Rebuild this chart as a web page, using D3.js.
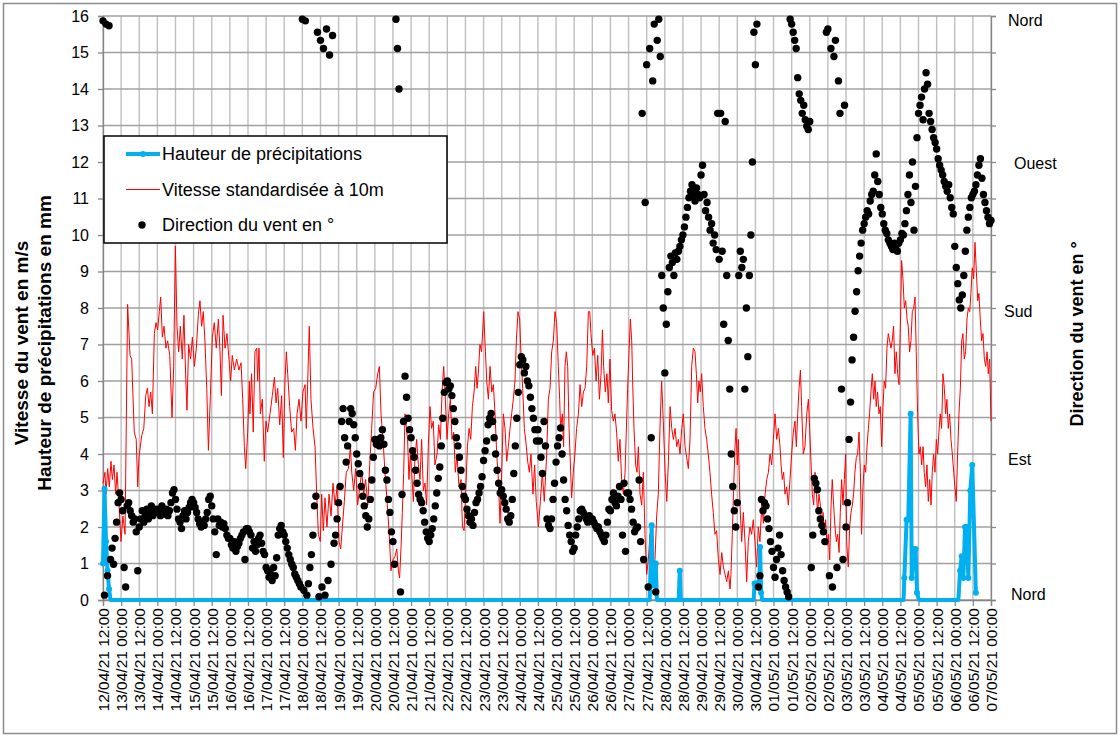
<!DOCTYPE html>
<html>
<head>
<meta charset="utf-8">
<script src="https://cdn.jsdelivr.net/npm/d3@7"></script>
<style>
body { margin: 0; background: #fff; }
text { font-family: "Liberation Sans", Arial, sans-serif; fill: #000; }
</style>
</head>
<body>
<div id="chart"></div>
<script>
// hours are counted from 12/04/21 12:00
var startTime = Date.UTC(2021, 3, 12, 12);
var endTime = Date.UTC(2021, 4, 7, 0);

// wind speed standardised at 10 m, [hour, m/s]
var speed = [[0,3.2],[1.3,3.5],[2,2.9],[3.1,3.6],[4.2,3.1],[5.3,3.8],[6.2,3.3],[7.3,3.7],[8.4,2.9],[9.3,3.5],[10.6,2.6],[11.9,1.6],[13.2,2.3],[14.6,1.8],[16.3,8.1],[17.9,6.7],[19,6.6],[20.7,4.6],[22,4.4],[23,3.1],[23.8,3.9],[25.6,4.5],[27,4.7],[28.3,5.6],[29.4,5.8],[30.5,5.3],[31.6,5.7],[32.7,5.1],[34,7.3],[35.1,7.6],[36.2,7.4],[37.3,7.9],[38.2,8.3],[39.3,7.2],[40.4,7.5],[41.7,6.9],[42.8,7.1],[44.2,6.7],[45.7,5.0],[46.8,6.4],[47.9,9.7],[49,7.5],[50.1,6.8],[51.2,7.5],[52.5,6.6],[53.6,7.8],[54.7,6.2],[55.6,5.2],[56.7,7.0],[58,6.6],[59.2,7.2],[60.5,6.4],[61.8,6.9],[63.1,7.8],[64.2,8.2],[65.3,7.5],[66.4,7.9],[67.5,7.1],[68.7,5.8],[69.8,4.1],[71.1,5.6],[72.4,7.2],[73.7,7.6],[75,6.9],[76.4,7.7],[77.5,6.8],[78.4,5.6],[79.5,7.8],[80.8,6.9],[82.1,7.3],[83.4,6.6],[84.5,6.0],[85.6,6.7],[87,6.3],[88.5,6.6],[90,6.3],[91.4,6.5],[92.5,5.5],[93.6,4.2],[94.5,3.6],[95.8,4.6],[96.9,6.0],
  [97.3,5.1],[98.4,6.2],[99.5,4.6],[100.6,6.8],[101.8,6.9],[102.4,6.0],[103.3,6.9],[104.2,5.1],[105.5,5.5],[106.8,3.8],[107.9,4.9],[109,4.6],[110.6,5.1],[112.1,5.6],[113.5,6.1],[114.6,5.4],[115.7,5.8],[117,4.8],[118.3,5.6],[119.4,3.9],[120.5,6.0],[121.4,6.8],[122.3,6.2],[123.6,5.3],[124.9,4.6],[126.3,4.7],[127.4,4.1],[128.5,5.1],[129.8,5.5],[131.1,4.9],[132.4,5.7],[133.8,5.9],[134.6,4.7],[135.5,5.9],[136.6,7.5],[137.7,5.5],[139.1,4.7],[140.4,4.2],[141.5,2.9],[142.6,1.8],[143.9,1.6],[144.8,2.9],[145.9,1.9],[147,2.8],[148.3,2.0],[149.7,2.9],[151,2.3],[152.3,3.2],[153.6,2.6],[155,3.1],[156.3,1.6],[157.4,1.4],[158.5,2.0],[159.8,2.7],[161.1,3.5],[162.5,3.6],[163.8,4.2],[164.7,3.5],[166,3.0],[167.3,3.6],[168.6,2.6],[170,3.1],[171.3,3.5],[172.6,2.9],[173.9,3.3],[175.3,2.6],[176.6,3.7],[177.9,4.7],[179.2,5.7],[180.6,5.8],[181.9,6.2],[183,6.4],[184.1,5.1],[185.4,4.4],[186.7,3.5],[188.1,2.7],[189.4,1.9],[190.7,0.8],[192,1.1],[193.4,1.2],
  [194.5,1.4],[195.6,0.8],[196.4,0.6],[197.3,1.4],[198.2,2.4],[199.1,3.5],[200,5.1],[200.9,4.7],[201.7,4.4],[202.6,3.3],[203.5,4.0],[204.4,3.5],[205.5,2.7],[206.6,3.9],[207.7,4.4],[208.8,3.7],[209.9,3.3],[211,4.4],[212.1,3.0],[213.2,3.2],[214.3,2.6],[215.4,4.2],[216.5,5.3],[217.6,4.7],[218.7,4.9],[219.8,3.7],[221.2,4.0],[222.3,4.8],[223.4,4.4],[224.5,5.7],[225.6,6.4],[226.7,5.5],[227.8,4.4],[228.9,5.1],[230,5.5],[231.1,4.4],[232.2,4.6],[233.3,3.5],[234.4,4.0],[235.7,3.1],[237.1,3.3],[238,2.0],[239.1,1.9],[240.2,3.0],[241.3,4.2],[242.4,4.7],[243.5,4.4],[244.6,5.3],[245.7,5.7],[246.8,6.4],[247.7,5.8],[248.5,6.2],[249.6,7.0],[250.7,6.8],[252.1,7.9],[253,7.0],[254.1,6.0],[255.2,5.5],[256.3,6.4],[257.4,5.7],[258.5,5.9],[259.6,5.1],[260.7,4.0],[261.8,3.3],[262.9,2.1],[264,3.5],[265.1,5.1],[266.2,4.7],[267.3,3.8],[268.4,4.2],[269.5,4.7],[270.6,5.1],[271.7,5.5],[272.8,6.0],[273.7,7.1],[274.8,7.9],[275.9,7.7],[276.8,6.7],[277.9,5.8],[279,4.7],[280.1,4.3],[281.2,3.8],[282.3,3.5],[283.4,4.0],[284.7,2.9],[285.8,3.7],[286.9,2.7],[288.3,2.0],[289.6,2.7],[290.9,3.5],[292.2,2.7],
  [293.8,4.0],[294.9,5.5],[296,5.8],[297.1,6.8],[298.2,7.1],[299.3,7.9],[300.4,7.6],[301.5,6.4],[302.4,5.5],[303,4.7],[304.2,5.1],[305,4.2],[305.9,6.4],[306.8,6.8],[307.7,6.4],[308.6,4.7],[309.5,3.7],[310.3,2.8],[311.4,3.5],[312.5,4.0],[313.6,4.7],[314.8,5.1],[315.9,5.9],[317,5.3],[318.1,5.7],[319.2,5.8],[320.3,6.4],[321.4,7.9],[322.3,7.9],[323.1,7.3],[324.3,6.7],[325.4,6.9],[326.5,6.0],[327.6,6.7],[328.7,5.5],[329.8,6.2],[330.7,7.4],[331.5,6.4],[332.6,5.7],[333.7,6.2],[334.6,5.4],[335.7,6.6],[336.8,5.2],[337.9,4.9],[339,5.1],[340.1,4.6],[341.2,3.8],[342.3,4.4],[343.4,3.3],[344.6,2.9],[345.7,3.5],[346.5,4.6],[347.4,5.8],[348.3,6.8],[349.2,7.7],[350.1,7.1],[350.7,6.0],[351.6,4.7],[352.7,3.7],[353.6,3.5],[354.5,4.2],[355.6,2.9],[356.7,2.6],[357.8,3.5],[358.9,1.8],[360,0.7],[361.1,1.1],[362.2,1.8],[363.3,1.1],[364.4,0.4],[365.5,1.1],[366.6,2.3],[367.7,2.9],[368.8,4.7],[369.9,6.0],[371,4.9],[372.2,3.5],[373.3,2.7],[374.4,3.8],[375.5,5.3],[376.6,4.7],[377.7,4.4],[378.8,4.7],[379.9,4.2],[381,4.4],[382.1,4.0],[383.2,4.7],[384.3,5.1],[385.4,4.2],[386.5,3.9],[387.6,3.6],[388.7,4.4],[389.8,6.4],[390.9,6.9],
  [392,6.8],[392.9,6.2],[393.8,5.4],[394.6,6.0],[395.5,5.7],[396.4,6.2],[397.5,5.3],[398.6,4.7],[399.7,4.4],[400.8,4.0],[401.9,3.5],[403,2.9],[404.1,2.4],[405.2,1.8],[406.3,1.9],[407.5,1.1],[408.6,0.7],[409.7,1.3],[410.8,0.9],[411.9,0.7],[413,0.5],[414.1,0.8],[415.2,0.3],[415.8,0.7],[416.7,1.8],[417.6,3.1],[418.5,4.2],[419.2,4.7],[420,3.7],[420.7,4.4],[421.8,2.6],[422.9,1.6],[424,2.4],[425.1,1.6],[426.2,0.5],[427.3,1.6],[428.4,2.0],[429.5,1.8],[430.6,2.2],[431.7,1.6],[432.8,0.9],[433.9,2.0],[435,1.6],[436.2,2.6],[437.3,2.1],[438.4,2.9],[439.5,3.3],[440.6,3.5],[441.7,4.0],[442.8,3.7],[443.9,4.4],[445,5.1],[446.1,4.4],[447.2,4.7],[448.3,4.2],[449,3.7],[449.8,3.3],[450.7,3.5],[451.6,2.9],[452.7,3.1],[453.8,2.6],[454.9,3.3],[456,4.0],[457.1,4.6],[458.2,4.9],[459.1,4.2],[460,5.1],[460.9,5.8],[461.8,6.3],[462.6,5.3],[463.7,4.0],[464.8,4.2],[466,5.1],[467.1,5.5],[467.9,4.7],[468.8,3.8],[469.7,2.9],[470.6,2.6],[471.5,3.5],[472.4,2.9],[473.2,2.4],[474.1,2.9],[475,2.6],[475.9,2.0],[476.8,2.4],[477.6,1.8],[478.5,2.2],[479.4,1.5],[480.3,1.8],[481.2,1.1],[482.1,2.6],[482.9,3.3],[483.8,2.6],[484.7,2.0],[485.6,1.6],[486.5,1.8],[487.4,1.3],[488.2,2.4],[489.1,3.3],[490,2.6],[490.9,3.3],[491.8,4.0],[492.4,1.6],[493.5,0.9],
  [494.4,2.0],[495.3,2.4],[496.2,2.6],[497,2.9],[497.9,3.5],[498.8,3.9],[499.7,4.0],[500.6,4.6],[501.5,3.5],[502.3,1.8],[503.2,3.1],[504.1,3.7],[505,3.5],[505.9,4.2],[506.8,4.7],[507.6,5.1],[508.5,5.7],[509.4,6.2],[510.3,5.5],[511.2,6.0],[512,5.3],[512.9,5.7],[513.8,5.1],[514.7,5.3],[515.6,4.2],[516.5,5.3],[517.3,6.0],[518.2,5.8],[519.1,6.9],[520,7.3],[520.9,7.1],[521.8,6.9],[522.6,7.1],[523.5,7.5],[524.4,6.2],[525.3,6.8],[526.2,6.2],[527.1,5.9],[527.9,7.3],[528.8,9.3],[529.7,8.8],[530.6,8.0],[531.5,8.2],[532.4,7.7],[533.2,7.5],[534.1,6.8],[535,7.1],[535.9,7.9],[536.8,8.0],[537.7,8.3],[538.5,6.8],[539.4,5.1],[540.3,4.0],[541.2,4.2],[542.1,3.7],[543,4.2],[543.8,3.5],[544.7,3.1],[545.6,3.7],[546.5,2.7],[547.4,3.3],[548.3,2.6],[549.1,3.5],[550,4.0],[550.9,3.5],[551.8,4.4],[552.7,4.0],[553.5,4.6],[554.4,5.1],[555.3,4.7],[556.2,6.2],[557.1,5.8],[558,5.1],[558.8,5.5],[559.7,4.7],[560.6,5.1],[561.5,4.4],[562.4,4.0],[563.3,3.5],[564.1,3.1],[565,2.7],[565.9,4.0],[566.8,5.1],[567.7,5.8],[568.6,7.1],[569.4,7.3],[570.3,6.6],[571.2,6.8],[572.1,7.7],[573,8.0],[573.9,7.9],[574.7,8.4],[575.6,9.1],[576.5,8.8],[577.4,9.8],[578.3,9.0],[579.2,8.2],[580,8.4],[580.9,7.7],[581.8,7.1],[582.7,7.3],[583.6,6.6],[584.5,6.4],[585.4,6.8],[586.2,6.2],[587.1,6.6],[588,4.9]];

// rainfall, [hour, mm]
var precip = [[0,1.0],[1,3.05],[2,1.6],[3,0.8],[4,0.3],[5,0],[362,0],[363.3,2.05],[364.2,0.4],[365,1.0],[366,1.0],[366.8,0],[381.2,0],[381.9,0.8],[382.6,0],[430.8,0],[431.4,0.45],[432.5,0.45],[433.6,0.4],[434.6,0.5],[435.1,1.45],[435.8,0.2],[436.5,0],[530.1,0],[530.6,0.6],[532.1,2.2],[533.2,2.2],[534.8,5.1],[535.5,0.6],[536.8,1.4],[538.1,1.4],[539,0.2],[540.3,0],[566.4,0],[567.5,0.8],[568.6,1.2],[569.7,0.6],[570.8,2.0],[571.9,2.0],[573,0.6],[574.3,3.0],[575.6,3.7],[578,0.2]];

// wind direction, degrees, one value per hour from hour 0
var direction = [
  357,3,355,15,354,25,32,22,38,48,60,66,
  62,55,20,8,58,60,55,52,48,50,42,18,
  45,50,55,48,52,56,50,54,58,52,55,56,
  54,56,52,58,55,53,56,52,55,60,66,68,
  62,56,50,48,44,52,55,50,54,57,60,62,
  60,57,54,50,47,45,48,46,50,54,62,64,
  58,50,42,28,50,46,48,45,47,44,40,38,
  38,34,32,36,30,33,35,38,40,42,25,44,
  44,42,40,32,36,30,34,38,40,35,30,28,
  20,18,14,16,12,20,15,26,40,44,46,42,
  40,36,32,28,25,22,20,16,14,12,10,8,
  358,6,357,3,10,20,28,40,58,64,350,2,
  345,8,340,3,352,12,336,22,348,35,40,50,
  60,70,110,118,100,85,95,110,118,115,108,100,
  90,84,78,70,64,58,52,45,50,62,74,88,
  99,96,99,95,100,105,96,80,74,62,54,42,
  36,22,358,340,315,5,65,110,138,125,112,105,
  100,92,88,80,72,65,62,60,55,48,42,38,
  36,40,44,50,58,66,75,82,95,112,128,134,
  135,130,132,126,118,110,100,95,88,80,70,64,
  62,56,52,48,50,46,54,60,62,66,70,76,
  86,92,98,108,112,115,110,100,90,80,72,66,
  68,64,60,56,50,48,52,62,78,95,112,128,
  145,150,148,140,144,135,132,125,118,112,105,98,
  105,98,88,78,110,95,50,46,44,50,62,72,
  85,95,100,106,90,74,62,55,46,40,36,30,
  32,40,45,50,55,56,54,52,50,48,52,50,
  50,48,46,44,45,42,40,38,36,40,48,56,
  55,62,66,60,58,64,70,62,40,72,30,66,
  66,62,56,48,42,44,45,74,36,300,25,245,
  330,8,340,100,320,355,5,345,358,335,200,180,
  140,170,190,205,212,208,200,214,210,215,218,222,
  225,230,236,242,248,252,256,250,246,254,250,248,
  262,268,250,240,245,236,228,232,220,225,216,300,
  210,300,215,170,295,200,160,130,90,70,55,45,
  60,200,215,205,210,130,180,150,200,225,270,350,
  330,355,8,15,62,55,60,58,50,44,36,30,
  20,14,25,32,40,28,18,12,8,5,2,358,
  355,350,345,340,322,312,308,300,305,296,292,290,
  295,20,40,75,72,68,55,50,46,42,36,350,
  352,15,340,8,335,345,20,320,300,130,25,305,
  45,60,99,122,148,162,178,190,203,212,220,228,
  232,236,240,238,246,250,252,262,275,258,250,242,
  238,232,228,226,222,220,218,216,220,218,215,220,
  222,226,225,232,240,250,262,245,270,228,255,285,
  300,305,310,296,315,325,318,300,295,290,285,282,
  278,272,268,265,262,258,255,252,256,248,242,238,
  218,205,195,185,180,188,200,215,228,236,242,248,
  250,252,256,262,268,272,260,250,245,240,236,232,
  234];

var leftTicks = d3.range(0, 17);
var dirTicks = d3.range(0, 361, 22.5);
var dirNames = {0: "Nord", 90: "Est", 180: "Sud", 270: "Ouest", 360: "Nord"};
var leftTitles = ["Vitesse du vent en m/s", "Hauteur de précipitations en mm"];
var rightTitle = "Direction du vent en °";
var legendNames = ["Hauteur de précipitations", "Vitesse standardisée à 10m", "Direction du vent en °"];

var w = 1120, h = 737;
var plotL = 103, plotR = 991, plotT = 16, plotB = 600;

var svg = d3.select("#chart").append("svg")
	.attr("width", w)
	.attr("height", h);

svg.append("rect")
	.attr("x", 3.5).attr("y", 3.5)
	.attr("width", w - 7).attr("height", h - 7)
	.attr("fill", "#fff")
	.attr("stroke", "#8c8c8c")
	.attr("stroke-width", 1.5);

var x = d3.scaleUtc()
	.domain([new Date(startTime), new Date(endTime)])
	.range([plotL, plotR]);
var y = d3.scaleLinear().domain([0, 16]).range([plotB, plotT]);
var yDir = d3.scaleLinear().domain([0, 360]).range([plotB, plotT]);

function hourToDate(t) { return new Date(startTime + t * 3600e3); }

var xTicks = x.ticks(d3.utcHour.every(12));

// grid
svg.append("g").selectAll("line")
	.data(xTicks)
	.enter().append("line")
	.attr("x1", function(d) { return x(d); })
	.attr("x2", function(d) { return x(d); })
	.attr("y1", plotT).attr("y2", plotB)
	.attr("stroke", "#bfbfbf")
	.attr("stroke-width", 1.4);
svg.append("g").selectAll("line")
	.data(leftTicks)
	.enter().append("line")
	.attr("x1", plotL).attr("x2", plotR)
	.attr("y1", function(d) { return y(d); })
	.attr("y2", function(d) { return y(d); })
	.attr("stroke", "#a0a0a0")
	.attr("stroke-width", 1.4);

// axes
var leftAxis = svg.append("g")
	.attr("transform", "translate(" + plotL + ",0)")
	.call(d3.axisLeft(y).tickValues(leftTicks).tickSize(5).tickPadding(9).tickFormat(d3.format("d")));
leftAxis.selectAll("text").style("font-size", "16px");

var rightAxis = svg.append("g")
	.attr("transform", "translate(" + plotR + ",0)")
	.call(d3.axisRight(yDir).tickValues(dirTicks).tickSize(5).tickFormat(function(d) { return dirNames[d] || ""; }));
var dirShift = {0: [20, -6], 90: [17, 5], 180: [13, 3], 270: [23, 1], 360: [17, 4]};
rightAxis.selectAll("text")
	.style("font-size", "16px")
	.attr("x", function(d) { return dirShift[d] ? dirShift[d][0] : 0; })
	.attr("dy", function(d) { return dirShift[d] ? (0.32 * 16 + dirShift[d][1]) + "px" : "0"; });

var bottomAxis = svg.append("g")
	.attr("transform", "translate(0," + plotB + ")")
	.call(d3.axisBottom(x).tickValues(xTicks).tickSize(6).tickFormat(d3.utcFormat("%d/%m/%y %H:%M")));
bottomAxis.selectAll("text")
	.style("font-size", "15.5px")
	.attr("text-anchor", "end")
	.attr("transform", "rotate(-90)")
	.attr("x", -8)
	.attr("y", 0)
	.attr("dy", "0.35em");

svg.selectAll(".domain").attr("stroke", "#868686").attr("stroke-width", 1.3);
svg.selectAll(".tick line").attr("stroke", "#868686").attr("stroke-width", 1.3);

// series
var speedLine = d3.line()
	.x(function(d) { return x(hourToDate(d[0])); })
	.y(function(d) { return y(d[1]); });
svg.append("path")
	.datum(speed)
	.attr("d", speedLine)
	.attr("fill", "none")
	.attr("stroke", "#ff0000")
	.attr("stroke-width", 1);

svg.append("path")
	.datum(precip)
	.attr("d", speedLine)
	.attr("fill", "none")
	.attr("stroke", "#00b0f0")
	.attr("stroke-width", 4)
	.attr("stroke-linejoin", "round");
svg.append("g").selectAll("circle")
	.data(precip.filter(function(d) { return d[1] > 0; }))
	.enter().append("circle")
	.attr("cx", function(d) { return x(hourToDate(d[0])); })
	.attr("cy", function(d) { return y(d[1]); })
	.attr("r", 3)
	.attr("fill", "#00b0f0");

svg.append("g").selectAll("circle")
	.data(direction)
	.enter().append("circle")
	.attr("cx", function(d, i) { return x(hourToDate(i)); })
	.attr("cy", function(d) { return yDir(d); })
	.attr("r", 3.7)
	.attr("fill", "#000");

// titles
svg.selectAll(".ltitle")
	.data(leftTitles)
	.enter().append("text")
	.attr("class", "ltitle")
	.attr("transform", function(d, i) { return "translate(" + (28 + i * 23) + ",343) rotate(-90)"; })
	.attr("text-anchor", "middle")
	.style("font-size", "19px")
	.style("font-weight", "bold")
	.text(function(d) { return d; });

svg.append("text")
	.attr("transform", "translate(1083,334) rotate(-90)")
	.attr("text-anchor", "middle")
	.style("font-size", "18px")
	.style("font-weight", "bold")
	.text(rightTitle);

// legend
var legend = svg.append("g").attr("transform", "translate(104,136)");
legend.append("rect")
	.attr("width", 343).attr("height", 107)
	.attr("fill", "#fff")
	.attr("stroke", "#000")
	.attr("stroke-width", 1.5);
var rows = legend.selectAll(".row")
	.data(legendNames)
	.enter().append("g")
	.attr("transform", function(d, i) { return "translate(0," + (18 + i * 35.5) + ")"; });
rows.append("text")
	.attr("x", 58).attr("dy", "0.35em")
	.style("font-size", "18px")
	.text(function(d) { return d; });
legend.append("line")
	.attr("x1", 22).attr("x2", 56).attr("y1", 18).attr("y2", 18)
	.attr("stroke", "#00b0f0").attr("stroke-width", 4);
legend.append("circle")
	.attr("cx", 39).attr("cy", 18).attr("r", 3).attr("fill", "#00b0f0");
legend.append("line")
	.attr("x1", 22).attr("x2", 56).attr("y1", 53.5).attr("y2", 53.5)
	.attr("stroke", "#ff0000").attr("stroke-width", 1);
legend.append("circle")
	.attr("cx", 38).attr("cy", 89).attr("r", 3.7).attr("fill", "#000");
</script>
</body>
</html>
